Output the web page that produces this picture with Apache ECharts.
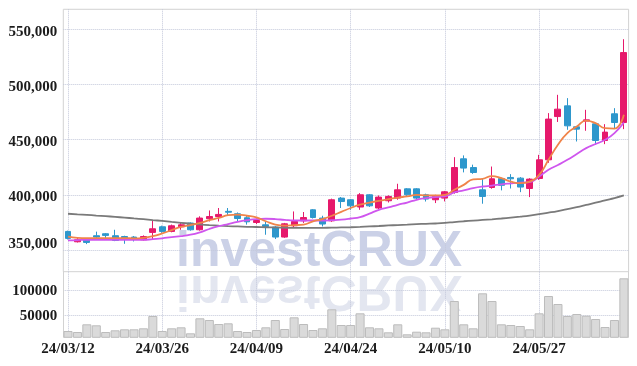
<!DOCTYPE html>
<html><head><meta charset="utf-8">
<script src="https://cdn.jsdelivr.net/npm/echarts@6/dist/echarts.min.js"></script>
<style>html,body{margin:0;padding:0;background:#fff}#c{width:637px;height:366px}</style>
</head><body><div id="c"></div>
<script>
const dates = ['24/03/12','24/03/13','24/03/14','24/03/15','24/03/18','24/03/19','24/03/20','24/03/21','24/03/22','24/03/25',
'24/03/26','24/03/27','24/03/28','24/03/29','24/04/01','24/04/02','24/04/03','24/04/04','24/04/05','24/04/08',
'24/04/09','24/04/11','24/04/12','24/04/15','24/04/16','24/04/17','24/04/18','24/04/19','24/04/22','24/04/23',
'24/04/24','24/04/25','24/04/26','24/04/29','24/04/30','24/05/02','24/05/03','24/05/07','24/05/08','24/05/09',
'24/05/10','24/05/13','24/05/14','24/05/16','24/05/17','24/05/20','24/05/21','24/05/22','24/05/23','24/05/24',
'24/05/27','24/05/28','24/05/29','24/05/30','24/05/31','24/06/03','24/06/04','24/06/05','24/06/07','24/06/10'];

const opens = [366800,357400,359900,362900,364700,362900,362200,361700,359200,365900,
371000,366800,371000,374400,368300,378300,380300,385000,382800,379200,
374900,372800,370700,361700,371900,376400,386400,378900,376400,397000,
395500,388900,400000,388000,394600,397000,405400,405400,400000,395500,
397000,402100,432600,424700,404500,406600,414700,415700,415100,405700,
414800,431700,470900,480600,461600,466800,464300,449200,473400,465500];
const closes = [360500,359200,356800,361700,363200,358600,359900,359900,362200,369200,
366800,371900,372800,368300,378900,380300,382200,384200,378500,375500,
376700,371300,361700,373700,375800,379400,379400,373500,395500,393900,
390000,400000,390000,397900,398500,404500,400000,397000,396100,398500,
402700,424700,424200,420200,398500,414500,408600,414500,407000,414200,
431700,468600,477600,462500,459500,467900,449200,456800,465500,528900];
const lows = [359500,356800,355300,359900,359900,358000,355600,357700,358600,359000,
365500,366000,368300,367500,367500,375800,375800,381000,376000,373000,
373500,363800,359900,361000,370500,374500,378500,371300,375500,388000,
386400,386400,389000,387000,393000,395500,399000,396000,393900,392500,
394000,401000,420300,419000,391900,405500,404000,405700,402400,397900,
413500,429000,466000,458900,448300,458000,445300,445900,460400,459500];
const highs = [367500,361700,360500,366600,365300,368300,362900,362600,363200,376400,
372000,373000,375300,375000,380500,385800,388000,388000,384000,381000,
378500,375800,371500,374500,384900,384400,387000,381000,396500,398000,
396000,401500,400500,399400,399500,410000,406000,406000,401000,400000,
403500,434100,435700,427300,415100,425600,415500,418700,416000,415000,
436200,474000,490600,487600,462000,477000,465000,464000,478500,541000];
const volumes = [19400,17400,32800,30800,17400,20800,22800,22800,24800,49400,
19400,24800,26800,14800,44800,41400,33400,34800,19400,17400,
21400,26800,41400,23400,46800,33400,21400,24800,62800,31400,
31400,54800,26800,24800,16800,32800,12800,18000,16800,26000,
22800,79400,32800,24800,94800,79400,32800,31400,29400,22800,
54800,89400,73400,49400,53400,50000,43400,27400,41400,124800];
const ma5 = [362000,361000,360800,360800,360800,360800,360800,360500,361000,362500,
365000,368000,371000,372500,374500,377000,379000,381500,382000,381000,
379500,376000,373000,372000,372500,373000,376000,378000,381000,384500,
388000,391000,393000,394500,396000,397500,398500,400000,399500,399500,
400000,404500,409000,414000,414500,417000,415000,412000,410500,412000,
418000,431700,445300,455900,461900,467300,464900,460400,460000,472500];
const ma20 = [358600,359000,359200,359200,359200,359200,359200,359200,359200,359800,
360500,361700,362500,363800,366000,369000,371500,373500,375500,377000,
378000,378300,378000,377200,376700,376700,376700,376700,377000,377500,
378500,379800,383000,386400,388500,390900,393000,395500,397000,398000,
398500,402100,404000,406100,407500,408300,409500,410300,411000,411500,
416600,422600,427000,431700,437000,442300,446000,449800,455900,465500];
const ma60 = [382800,382300,381800,381200,380600,380000,379300,378600,377900,377100,
376300,375400,374600,373800,373100,372500,372000,371600,371300,371000,
370800,370600,370400,370200,370000,370000,370000,370100,370200,370400,
370600,370900,371300,371700,372200,372600,373000,373400,373700,374000,
374500,375300,376000,376600,377200,377800,378500,379300,380200,381200,
382400,383800,385300,387000,388800,390800,392800,395000,397000,399400];
const priceTicks = [350000,400000,450000,500000,550000];
const volumeTicks = [50000,100000];

const FONT = 'Liberation Sans Narrow';
const LABEL = {fontFamily:FONT, fontSize:15, fontWeight:'bold', color:'#1c1c1c'};
const gridLine = {show:true, lineStyle:{type:'dotted', color:'#c3c8da', width:1}};
const chart = echarts.init(document.getElementById('c'), null, {renderer:'canvas'});
const candle = dates.map((d,i)=>[opens[i], closes[i], lows[i], highs[i]]);

chart.setOption({
  animation:false,
  backgroundColor:'#ffffff',
  graphic:[
    {type:'text', x:176, y:252, z:-10, silent:true,
     style:{text:'investCRUX', font:'bold 50px "Liberation Sans"', fill:'#cbd1e7', textVerticalAlign:'middle'}},
    {type:'text', x:176, y:271, scaleY:-1, z:-10, silent:true,
     style:{text:'investCRUX', y:-19, font:'bold 50px "Liberation Sans"', fill:'#e3e6f0', textVerticalAlign:'middle'}}
  ],
  grid:[
    {left:63.3, right:8.4, top:9.3, height:262.4, show:true, borderColor:'#d2d2d2', borderWidth:1},
    {left:63.3, right:8.4, top:271.7, bottom:28.7}
  ],
  xAxis:[
    {type:'category', gridIndex:0, data:dates, boundaryGap:true,
     axisLine:{show:false}, axisTick:{show:false, alignWithLabel:true}, axisLabel:{show:false, interval:9},
     splitLine:Object.assign({interval:9, alignWithLabel:true}, gridLine)},
    {type:'category', gridIndex:1, data:dates, boundaryGap:true,
     axisLine:{show:false}, axisTick:{show:false, alignWithLabel:true},
     axisLabel:Object.assign({interval:9, margin:4}, LABEL),
     splitLine:Object.assign({interval:9, alignWithLabel:true}, gridLine)}
  ],
  yAxis:[
    {type:'value', gridIndex:0, min:330300, max:568100,
     axisLine:{show:false}, axisTick:{show:false, customValues:priceTicks},
     axisLabel:Object.assign({customValues:priceTicks, margin:6, padding:[5,0,0,0],
       formatter:v=> v === 350000 ? '{lo|' + v.toLocaleString('en-US') + '}' : v.toLocaleString('en-US'),
       rich:{lo:Object.assign({padding:[0,0,17,0]}, LABEL)}}, LABEL),
     splitLine:gridLine},
    {type:'value', gridIndex:1, min:6800, max:138000,
     axisLine:{show:true, lineStyle:{color:'#d2d2d2'}}, axisTick:{show:false, customValues:volumeTicks},
     axisLabel:Object.assign({customValues:volumeTicks, margin:6, padding:[4,0,0,0], formatter:v=>String(v)}, LABEL),
     splitLine:gridLine},
    {type:'value', gridIndex:1, position:'right', min:6800, max:138000,
     axisLine:{show:true, lineStyle:{color:'#d2d2d2'}}, axisTick:{show:false}, axisLabel:{show:false}, splitLine:{show:false}}
  ],
  series:[
    {type:'bar', xAxisIndex:1, yAxisIndex:1, data:volumes, barCategoryGap:'4%',
     itemStyle:{color:'#dadada', borderColor:'#bcbcbc', borderWidth:1}},
    {type:'candlestick', xAxisIndex:0, yAxisIndex:0, data:candle, barWidth:'68%',
     itemStyle:{color:'#e6196b', color0:'#2e97cc', borderColor:'#e6196b', borderColor0:'#2e97cc', borderWidth:1}},
    {type:'line', xAxisIndex:0, yAxisIndex:0, data:ma60, smooth:true, showSymbol:false,
     lineStyle:{color:'#7a7a7a', width:1.8}},
    {type:'line', xAxisIndex:0, yAxisIndex:0, data:ma20, smooth:true, showSymbol:false,
     lineStyle:{color:'#cf56ee', width:1.8}},
    {type:'line', xAxisIndex:0, yAxisIndex:0, data:ma5, smooth:true, showSymbol:false,
     lineStyle:{color:'#f0844a', width:1.8}}
  ]
});
</script></body></html>
